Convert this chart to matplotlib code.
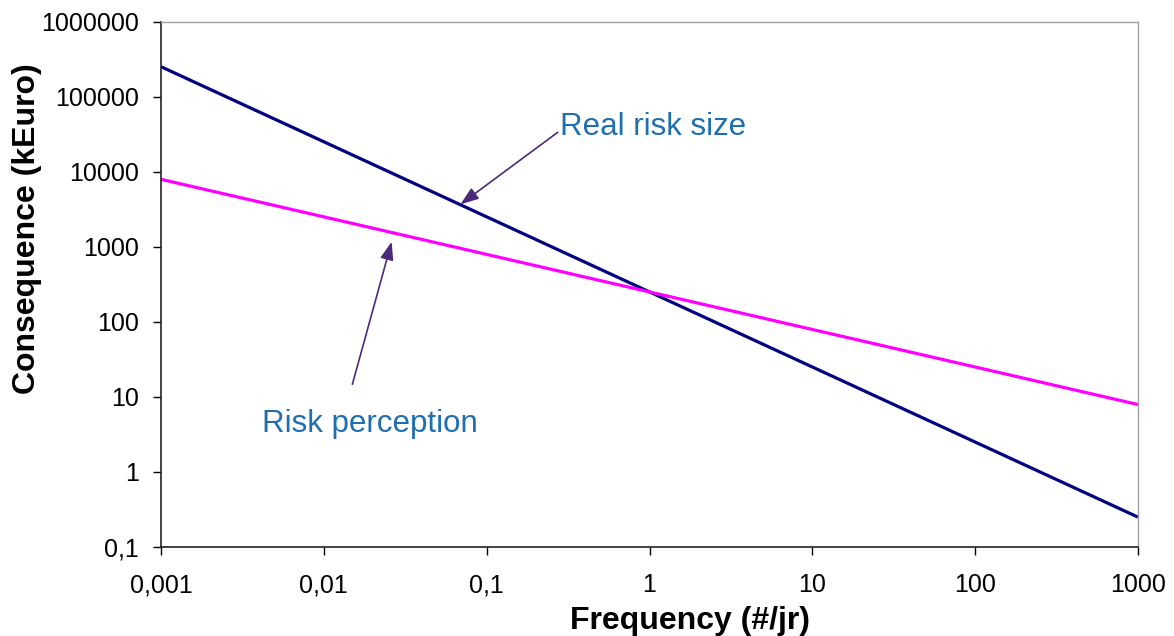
import matplotlib
matplotlib.use("Agg")
import matplotlib.pyplot as plt

# Data
freq = [0.001, 1000]
real_risk = [250000, 0.25]
perception = [7900, 7.9]

xticks = [0.001, 0.01, 0.1, 1, 10, 100, 1000]
xticklabels = ["0,001", "0,01", "0,1", "1", "10", "100", "1000"]
yticks = [0.1, 1, 10, 100, 1000, 10000, 100000, 1000000]
yticklabels = ["0,1", "1", "10", "100", "1000", "10000", "100000", "1000000"]

plt.rcParams['font.family'] = ['Liberation Sans', 'DejaVu Sans']

W, H = 1174, 636
fig = plt.figure(figsize=(W / 100, H / 100), dpi=100)
L, R, T, B = 161, 1138, 21.5, 547
ax = fig.add_axes([L / W, (H - B) / H, (R - L) / W, (B - T) / H])

ax.plot(freq, real_risk, color="#000080", lw=2.3, solid_capstyle="butt")
ax.plot(freq, perception, color="#FF00FF", lw=2.3, solid_capstyle="butt")

ax.set_xscale("log")
ax.set_yscale("log")
ax.set_xlim(0.001, 1000)
ax.set_ylim(0.1, 1000000)
ax.set_xticks(xticks)
ax.set_xticklabels(xticklabels)
ax.set_yticks(yticks)
ax.set_yticklabels(yticklabels)
ax.minorticks_off()
ax.tick_params(axis="both", direction="out", length=6, width=1, labelsize=18, colors="black")
ax.tick_params(axis="x", pad=13)
ax.tick_params(axis="y", pad=10)

for s in ("left", "bottom"):
    ax.spines[s].set_color("#222222")
    ax.spines[s].set_linewidth(1.2)
for s in ("top", "right"):
    ax.spines[s].set_color("#A0A0A0")
    ax.spines[s].set_linewidth(1.0)

ax.set_xlabel("Frequency (#/jr)", fontsize=23, fontweight="bold")
ax.xaxis.label.set_va("baseline")
ax.xaxis.set_label_coords((690 - L) / (R - L), (B - 629) / (B - T))
ax.set_ylabel("Consequence (kEuro)", fontsize=23, fontweight="bold")
ax.yaxis.label.set_va("center")
ax.yaxis.set_label_coords((27 - L) / (R - L), (B - 229) / (B - T))

acol = "#4B2A7B"
tcol = "#1F6FB0"
ax.annotate("", xy=(0.069, 3670), xytext=(0.273, 33400),
            arrowprops=dict(arrowstyle="-|>,head_length=1.1,head_width=0.4",
                            mutation_scale=10, color=acol, lw=1.2,
                            shrinkA=0, shrinkB=0))
ax.annotate("", xy=(0.0261, 1166), xytext=(0.01497, 14.7),
            arrowprops=dict(arrowstyle="-|>,head_length=1.1,head_width=0.4",
                            mutation_scale=10, color=acol, lw=1.2,
                            shrinkA=0, shrinkB=0))
ax.text(0.283, 30770, "Real risk size", color=tcol, fontsize=22.5,
        ha="left", va="baseline")
ax.text(0.00417, 3.40, "Risk perception", color=tcol, fontsize=22.5,
        ha="left", va="baseline")

fig.savefig("out.png", dpi=100)
